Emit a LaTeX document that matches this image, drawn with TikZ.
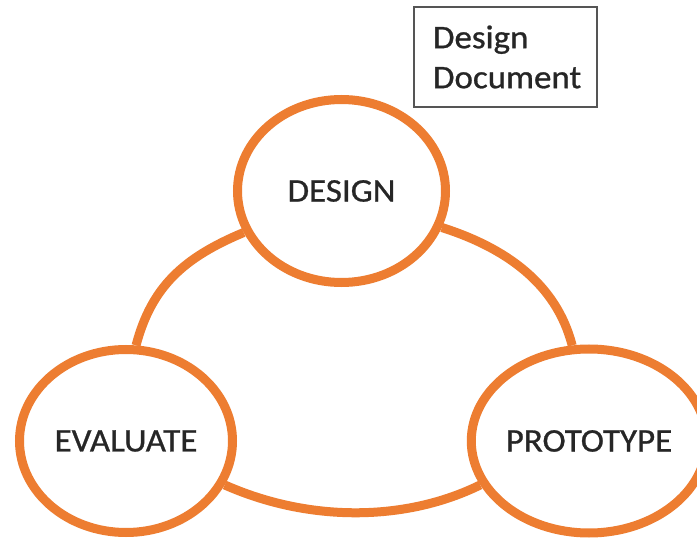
\documentclass[tikz,border=0pt]{standalone}
\usepackage{fontspec}
\setmainfont{Carlito}[FakeStretch=1.06,FakeBold=0.8]
\usetikzlibrary{shapes.geometric,backgrounds}
\definecolor{stageorange}{HTML}{ED7D31}
\definecolor{labelgray}{HTML}{262626}
\definecolor{boxgray}{HTML}{555555}
\begin{document}
\begin{tikzpicture}[x=1pt,y=-1pt,
  stage/.style={ellipse, draw=stageorange, line width=9pt, fill=white,
    inner sep=0pt, text=labelgray, font=\fontsize{33}{40}\selectfont},
  cycleline/.style={draw=stageorange, line width=9pt},
  notebox/.style={draw=boxgray, line width=1.5pt, fill=white, inner xsep=0pt,
    text width=145pt, minimum width=183pt, minimum height=100pt, align=left,
    text=labelgray, font=\fontsize{33}{40}\selectfont}]
\useasboundingbox (0,0) rectangle (697,540);

% the three stages of the cycle
\node[stage, minimum width=208pt, minimum height=183pt] (design) at (341.5,191) {DESIGN};
\node[stage, minimum width=213pt, minimum height=183pt] (evaluate) at (126,441) {EVALUATE};
\node[stage, minimum width=205pt, minimum height=184pt] (prototype) at (589,441) {PROTOTYPE};

% output of the design stage
\node[notebox] (doc) at (505.5,57) {Design\\Document};

% arcs joining the stages
\begin{scope}[on background layer]
  \fill[white] (0,0) rectangle (697,540);
  \draw[cycleline] (design.203) .. controls (183.6,257.6) and (151.5,286.7) .. (evaluate.84);
  \draw[cycleline] (design.340) .. controls (504.7,247.5) and (556.2,283) .. (prototype.100);
  \draw[cycleline] (evaluate.336) .. controls (311.4,523.3) and (407.6,520.8) .. (prototype.202);
\end{scope}
\end{tikzpicture}
\end{document}
